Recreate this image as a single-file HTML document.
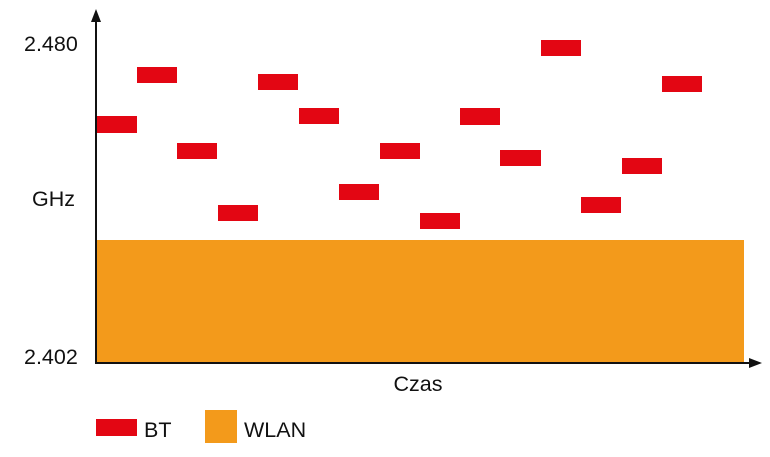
<!DOCTYPE html>
<html><head><style>
body{margin:0;width:770px;height:452px;background:#fff;overflow:hidden;font-family:"Liberation Sans",sans-serif;}
</style></head><body>
<svg width="770" height="452" xmlns="http://www.w3.org/2000/svg">
<rect x="96" y="240" width="648" height="123" fill="#f39a1b"/>
<g fill="#e30613">
<rect x="96" y="116" width="41" height="17"/>
<rect x="137" y="67" width="40" height="16"/>
<rect x="177" y="143" width="40" height="16"/>
<rect x="218" y="205" width="40" height="16"/>
<rect x="258" y="74" width="40" height="16"/>
<rect x="299" y="108" width="40" height="16"/>
<rect x="339" y="184" width="40" height="16"/>
<rect x="380" y="143" width="40" height="16"/>
<rect x="420" y="213" width="40" height="16"/>
<rect x="460" y="108" width="40" height="17"/>
<rect x="500" y="150" width="41" height="16"/>
<rect x="541" y="40" width="40" height="16"/>
<rect x="581" y="197" width="40" height="16"/>
<rect x="622" y="158" width="40" height="16"/>
<rect x="662" y="76" width="40" height="16"/>
</g>
<line x1="96" y1="364" x2="96" y2="20" stroke="#111" stroke-width="2"/>
<polygon points="96,9 91,22 101,22" fill="#111"/>
<line x1="95" y1="363" x2="752" y2="363" stroke="#111" stroke-width="2"/>
<polygon points="762,363 749,358 749,368" fill="#111"/>
<g font-size="21.5" fill="#111">
<text x="24" y="51">2.480</text>
<text x="32" y="206">GHz</text>
<text x="24" y="364">2.402</text>
<text x="418" y="391" text-anchor="middle">Czas</text>
<text x="144" y="437">BT</text>
<text x="244" y="437">WLAN</text>
</g>
<rect x="96" y="419" width="41" height="17" fill="#e30613"/>
<rect x="205" y="410" width="32" height="33" fill="#f39a1b"/>
</svg>
</body></html>
